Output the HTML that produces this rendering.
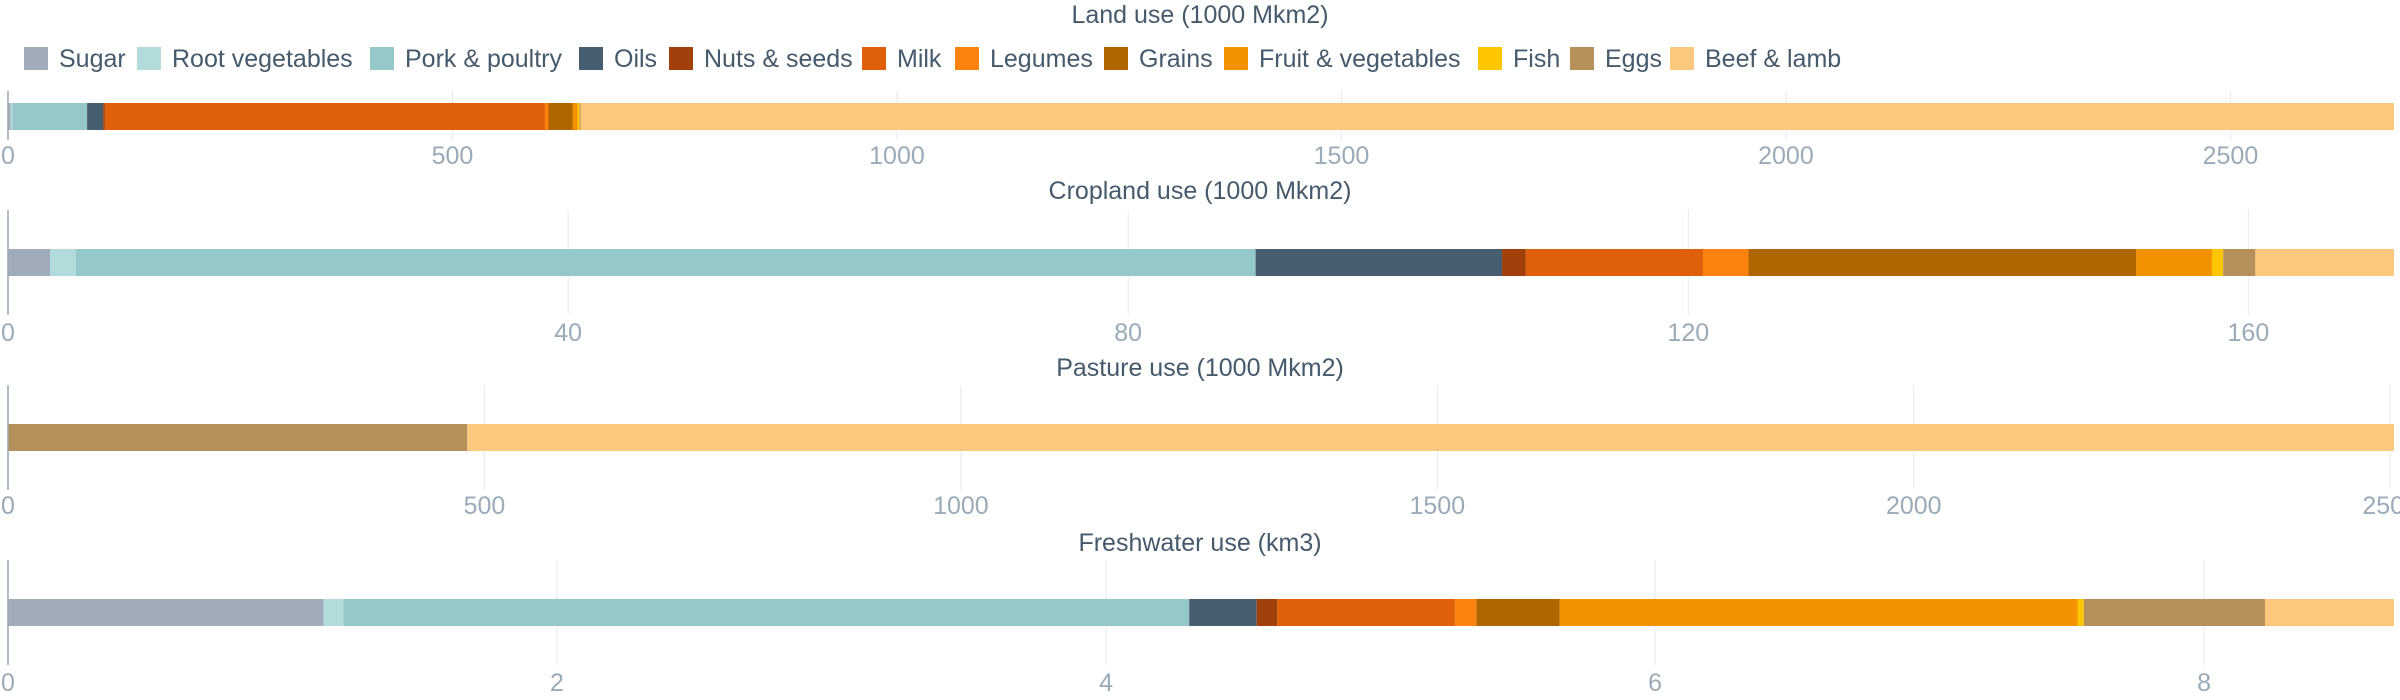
<!DOCTYPE html>
<html><head><meta charset="utf-8">
<style>
html,body{margin:0;padding:0;background:#fff;width:2400px;height:700px;overflow:hidden;font-family:"Liberation Sans",sans-serif;}
svg{position:absolute;left:0;top:0;}
</style></head>
<body>
<svg id="chart" width="2400" height="700" xmlns="http://www.w3.org/2000/svg"></svg>
<script>
const categories = ["Sugar","Root vegetables","Pork & poultry","Oils","Nuts & seeds","Milk","Legumes","Grains","Fruit & vegetables","Fish","Eggs","Beef & lamb"];
const colors = ["#a0acb9","#b2dcdb","#95c8c8","#475d70","#a1400b","#df5f0a","#fd820f","#b06600","#f39200","#ffc600","#b6905a","#fcc87d"];
const landValues = [3,2,84,18,2,495,4,27,6,2,1,2040];
const croplandValues = [3.0,1.85,84.25,17.6,1.7,12.65,3.25,27.7,5.4,0.8,2.3,9.9];
const pastureValues = [0,0,0,0,0,0,0,0,0,0,482,2022];
const freshwaterValues = [1.15,0.072,3.081,0.246,0.075,0.647,0.078,0.304,1.886,0.023,0.66,0.47];
const landTicks = [0,500,1000,1500,2000,2500];
const croplandTicks = [0,40,80,120,160];
const pastureTicks = [0,500,1000,1500,2000,2500];
const freshwaterTicks = [0,2,4,6,8];
const titles = ["Land use (1000 Mkm2)","Cropland use (1000 Mkm2)","Pasture use (1000 Mkm2)","Freshwater use (km3)"];

const NS="http://www.w3.org/2000/svg";
const svg=document.getElementById('chart');
function mk(tag,attrs,parent){const e=document.createElementNS(NS,tag);for(const k in attrs)e.setAttribute(k,attrs[k]);(parent||svg).appendChild(e);return e;}

const X0=8, X1=2394;
const FS=25;
const panels=[
 {key:"land",values:landValues,ticks:landTicks,titleY:23,gridTop:91,barY:103,gridBot:140,tickY:164},
 {key:"cropland",values:croplandValues,ticks:croplandTicks,titleY:199,gridTop:210,barY:249,gridBot:315,tickY:341},
 {key:"pasture",values:pastureValues,ticks:pastureTicks,titleY:376,gridTop:385,barY:424,gridBot:490,tickY:514},
 {key:"freshwater",values:freshwaterValues,ticks:freshwaterTicks,titleY:551,gridTop:560,barY:599,gridBot:665,tickY:691}
];

panels.forEach((p,pi)=>{
  const g=mk('g',{});
  
  
  const total=p.values.reduce((a,b)=>a+b,0);
  const xs=v=>X0+(v/total)*(X1-X0);
  const t=mk('text',{x:1200,y:p.titleY,'text-anchor':'middle','font-size':FS,fill:'#455a6b'},g);
  t.textContent=titles[pi];
  
  
  p.ticks.forEach(tv=>{
    const x=xs(tv);
    if(tv!==0){
      const gl=mk('line',{x1:x,x2:x,y1:p.gridTop,y2:p.gridBot,stroke:'#e6e9ee','stroke-width':1},g);
      
      
    }
    const tl=mk('text',{x:x,y:p.tickY,'text-anchor':'middle','font-size':FS,fill:'#9aabb8'},g);
    tl.textContent=String(tv);
    
    
  });
  let acc=0;
  p.values.forEach((v,i)=>{
    const xa=xs(acc), xb=xs(acc+v); acc+=v;
    if(v<=0) return;
    const r=mk('rect',{x:xa,y:p.barY,width:Math.max(0,xb-xa),height:27,fill:colors[i]},g);
    
    
  });
  const ax=mk('line',{x1:X0,x2:X0,y1:p.gridTop,y2:p.gridBot,stroke:'#9aa6b0','stroke-width':1.5},g);
  
  
});

// legend
const legendX=[24,137,370,579,669,862,955,1104,1224,1478,1570,1670];
const lg=mk('g',{});


categories.forEach((c,i)=>{
  const item=mk('g',{},lg);
  
  
  mk('rect',{x:legendX[i],y:47,width:24,height:23,fill:colors[i]},item);
  const tx=mk('text',{x:legendX[i]+35,y:67,'font-size':FS,fill:'#455a6b'},item);
  tx.textContent=c;
});
</script>
</body></html>
